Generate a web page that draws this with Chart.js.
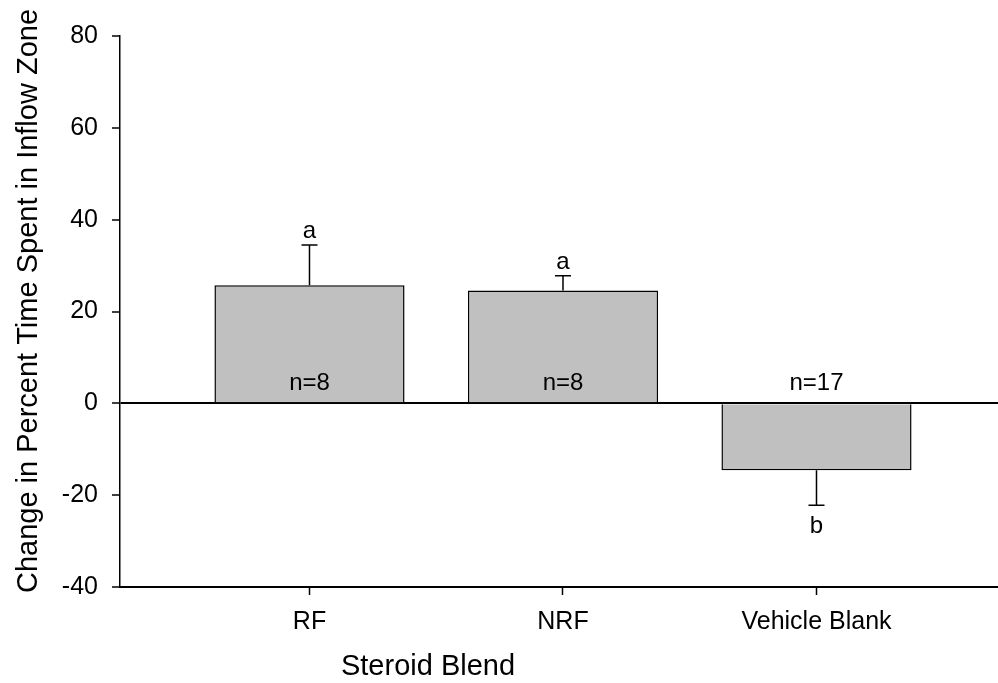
<!DOCTYPE html>
<html>
<head>
<meta charset="utf-8">
<script src="https://cdn.jsdelivr.net/npm/chart.js@4/dist/chart.umd.min.js"></script>
<style>
  html, body { margin: 0; padding: 0; background: #fff; }
  #wrap { width: 998px; height: 683px; }
</style>
</head>
<body>
<div id="wrap"><canvas id="chart" width="998" height="683"></canvas></div>
<script>
// Groups and their summary statistics
const categories = ['RF', 'NRF', 'Vehicle Blank'];
const means = [25.7, 24.6, -14.6];
const sem = [8.8, 3.2, 7.6];
const groupLetters = ['a', 'a', 'b'];
const sampleSizes = [8, 8, 17];
const yTicks = [-40, -20, 0, 20, 40, 60, 80];

const FONT = '"Liberation Sans", Arial, Helvetica, sans-serif';

// Error bars, significance letters, sample sizes and axis titles
const annotate = {
  id: 'annotate',
  afterDatasetsDraw(chart) {
    const { ctx, scales: { x, y } } = chart;
    ctx.save();
    ctx.strokeStyle = '#000';
    ctx.fillStyle = '#000';
    ctx.lineWidth = 1.5;
    ctx.textAlign = 'center';
    ctx.textBaseline = 'alphabetic';
    ctx.font = '24px ' + FONT;
    const zero = y.getPixelForValue(0);
    means.forEach((m, i) => {
      const px = x.getPixelForValue(i + 1);
      const dir = m >= 0 ? 1 : -1;
      const y0 = y.getPixelForValue(m);
      const y1 = y.getPixelForValue(m + dir * sem[i]);
      ctx.beginPath();
      ctx.moveTo(px, y0);
      ctx.lineTo(px, y1);
      ctx.moveTo(px - 8, y1);
      ctx.lineTo(px + 8, y1);
      ctx.stroke();
      if (dir > 0) {
        ctx.fillText(groupLetters[i], px, y1 - 7);
      } else {
        ctx.fillText(groupLetters[i], px, y1 + 28);
      }
      ctx.fillText('n=' + sampleSizes[i], px, zero - 13);
    });

    ctx.font = '29px ' + FONT;
    ctx.fillText('Steroid Blend', 428, 675);
    ctx.translate(37, 301);
    ctx.rotate(-Math.PI / 2);
    ctx.fillText('Change in Percent Time Spent in Inflow Zone', 0, 0);
    ctx.restore();
  }
};

new Chart(document.getElementById('chart'), {
  type: 'bar',
  data: {
    datasets: [{
      data: means.map((v, i) => ({ x: i + 1, y: v })),
      backgroundColor: '#c0c0c0',
      borderColor: '#000',
      borderWidth: 1.5,
      borderSkipped: 'start',
      barPercentage: 0.75,
      categoryPercentage: 1
    }]
  },
  options: {
    responsive: false,
    animation: false,
    devicePixelRatio: 1,
    layout: { padding: { top: 36, right: 0, left: 0, bottom: 0 } },
    plugins: { legend: { display: false }, tooltip: { enabled: false } },
    scales: {
      x: {
        type: 'linear',
        offset: false,
        min: 0.2525,
        max: 3.716,
        afterBuildTicks: (scale) => {
          scale.ticks = categories.map((_, i) => ({ value: i + 1 }));
        },
        afterFit: (scale) => { scale.height = 96; },
        ticks: {
          callback: (v) => categories[v - 1] ?? '',
          color: '#000',
          font: { family: FONT, size: 25 },
          padding: 12,
          maxRotation: 0,
          autoSkip: false
        },
        grid: {
          offset: false,
          drawOnChartArea: false,
          tickLength: 8,
          tickColor: '#000',
          tickWidth: 1.5
        },
        border: { display: true, color: '#000', width: 2 }
      },
      y: {
        z: 1,
        min: yTicks[0],
        max: yTicks[yTicks.length - 1],
        afterBuildTicks: (scale) => {
          scale.ticks = yTicks.map(v => ({ value: v }));
        },
        afterFit: (scale) => { scale.width = 120; },
        ticks: {
          color: '#000',
          font: { family: FONT, size: 25 },
          padding: 14
        },
        grid: {
          color: (c) => (c.tick && c.tick.value === 0 ? '#000' : 'rgba(0,0,0,0)'),
          lineWidth: (c) => (c.tick && c.tick.value === 0 ? 2 : 0),
          tickColor: '#000',
          tickWidth: 1.5,
          tickLength: 8
        },
        border: { display: true, color: '#000', width: 1.5 }
      }
    }
  },
  plugins: [annotate]
});
</script>
</body>
</html>
